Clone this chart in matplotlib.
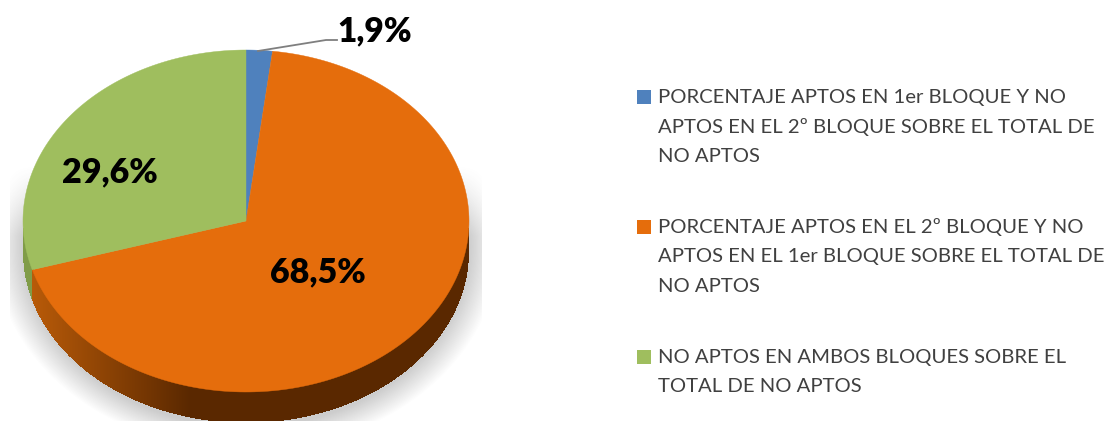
import numpy as np
import matplotlib
matplotlib.use("Agg")
import matplotlib.pyplot as plt
from matplotlib.patches import Rectangle

labels = ["PORCENTAJE APTOS EN 1er BLOQUE Y NO\nAPTOS EN EL 2º BLOQUE SOBRE EL TOTAL DE\nNO APTOS",
          "PORCENTAJE APTOS EN EL 2º BLOQUE Y NO\nAPTOS EN EL 1er BLOQUE SOBRE EL TOTAL DE\nNO APTOS",
          "NO APTOS EN AMBOS BLOQUES SOBRE EL\nTOTAL DE NO APTOS"]
values = [1.9, 68.5, 29.6]
value_labels = ["1,9%", "68,5%", "29,6%"]
colors = ["#4F81BD", "#E56D0C", "#9FBE5E"]

W, H = 1108, 421
plt.rcParams['font.family'] = ['Lato', 'DejaVu Sans']
fig = plt.figure(figsize=(W/100, H/100), dpi=100)
ax = fig.add_axes([0, 0, 1, 1])
ax.set_xlim(0, W); ax.set_ylim(H, 0); ax.axis("off")

cx, cy, rx, ry, depth = 246, 221, 223, 171, 31

# blurred shadow behind the pie, fading out above its middle, clipped at its box
yy, xx = np.mgrid[0:H, 0:W]
d = np.sqrt(((xx-cx)/(rx+30))**2 + ((yy-(cy+depth-6))/(ry+34))**2)
edge = np.clip((1.0-d)/0.12, 0, 1)
fade = np.clip((yy-165)/70, 0, 1)
alpha = 0.30*edge*fade
alpha[:, :10] = 0; alpha[:, 482:] = 0
rgba = np.zeros((H, W, 4)); rgba[..., :3] = 0.35; rgba[..., 3] = alpha
ax.imshow(rgba, extent=(0, W, H, 0), zorder=1, aspect="auto", interpolation="bilinear")
ax.set_xlim(0, W); ax.set_ylim(H, 0)

def pt(frac):
    a = 2*np.pi*frac
    return cx+rx*np.sin(a), cy-ry*np.cos(a)

cum = np.cumsum([0]+values)/100
c_light = np.array([0xB8, 0x5A, 0x08])/255
c_dark = np.array([0x5A, 0x28, 0x00])/255
c_green = np.array([0x80, 0x9C, 0x48])/255

# side wall drawn as thin vertical strips coloured by segment
xs = np.arange(cx-rx, cx+rx, 1.0)
x_split = pt(cum[2])[0]
for x0 in xs:
    xm = x0+.5
    u = np.clip((xm-cx)/rx, -1, 1)
    yb = cy+ry*np.sqrt(1-u*u)
    if xm < x_split:
        c = c_green
    else:
        k = np.clip((xm-x_split)/(190-x_split), 0, 1)
        c = c_light*(1-k)+c_dark*k
    ax.add_patch(Rectangle((x0, yb-4), 1.4, depth+4, color=c, lw=0, zorder=2))

# top ellipse
for i, v in enumerate(values):
    a = np.linspace(cum[i], cum[i+1], 200)
    px, py = pt(a)
    ax.fill(np.r_[cx, px], np.r_[cy, py], color=colors[i], lw=0.3, zorder=3)

# value labels
fs = 24.6
ax.text(375, 31, value_labels[0], ha="center", va="center", fontsize=24, fontweight="heavy", color="black", zorder=5)
ax.text(318, 272, value_labels[1], ha="center", va="center", fontsize=fs, fontweight="heavy", color="black", zorder=5)
ax.text(110, 172, value_labels[2], ha="center", va="center", fontsize=fs, fontweight="heavy", color="black", zorder=5)

# leader line
ax.plot([258, 326, 337], [51, 40, 40], color="#7F7F7F", lw=1.3, zorder=4)

# legend
ys = [97, 227, 357]
for l, y, c in zip(labels, ys, colors):
    ax.add_patch(Rectangle((637, y-7), 14, 14, color=c, lw=0, zorder=4))
    for j, line in enumerate(l.split("\n")):
        ax.text(658, y+j*29.5, line, ha="left", va="center", fontsize=14.6, color="#404040", zorder=5)

fig.savefig("out.png", dpi=100)
